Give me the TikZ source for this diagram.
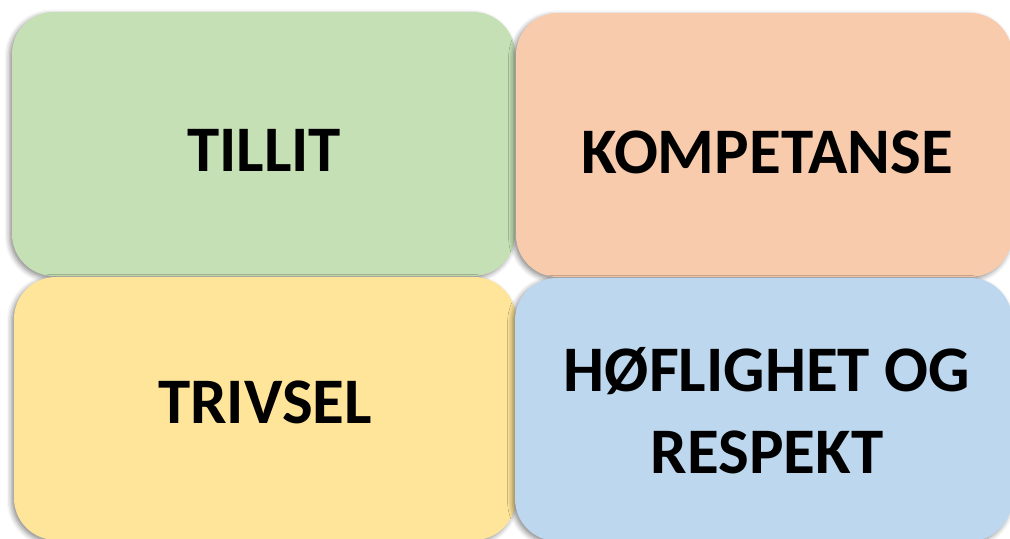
\documentclass[tikz,border=0pt]{standalone}
\usepackage{fontspec}
\setmainfont{Carlito}
\usetikzlibrary{shadows.blur}

\definecolor{tilgreen}{HTML}{C5E0B4}
\definecolor{komorange}{HTML}{F8CBAD}
\definecolor{trivyellow}{HTML}{FFE599}
\definecolor{respblue}{HTML}{BDD7EE}

\begin{document}
\begin{tikzpicture}[x=0.5pt,y=-0.5pt,
	box/.style={rounded corners=21pt, inner sep=0pt,
		blur shadow={shadow xshift=-1.2pt, shadow yshift=-1.2pt,
			shadow blur radius=2.5pt, shadow opacity=45}},
	word/.style={font=\fontsize{32.5}{41}\selectfont\bfseries, align=center, inner sep=0pt}]

% frame %{{{2

	\useasboundingbox (0,0) rectangle (1010,539);
	\clip (0,0) rectangle (1010,539);

% boxes %{{{2

	\node[box, fill=tilgreen, minimum width=251.5pt, minimum height=132pt]
		(tillit) at (263.5,144) {};
	\node[box, fill=komorange, minimum width=248pt, minimum height=132pt]
		(kompetanse) at (764,145) {};
	\node[box, fill=trivyellow, minimum width=251pt, minimum height=131.5pt]
		(trivsel) at (265,408.5) {};
	\node[box, fill=respblue, minimum width=248.5pt, minimum height=131.5pt]
		(respekt) at (763.5,409.5) {};

% labels %{{{2

	\node[word] (tillittext) at (264,150) {TILLIT};
	\node[word] (kompetansetext) at (767,152) {KOMPETANSE};
	\node[word] (trivseltext) at (265,402) {TRIVSEL};
	\node[word] (respekttext) at (767,411) {HØFLIGHET OG\\RESPEKT};

\end{tikzpicture}
\end{document}
